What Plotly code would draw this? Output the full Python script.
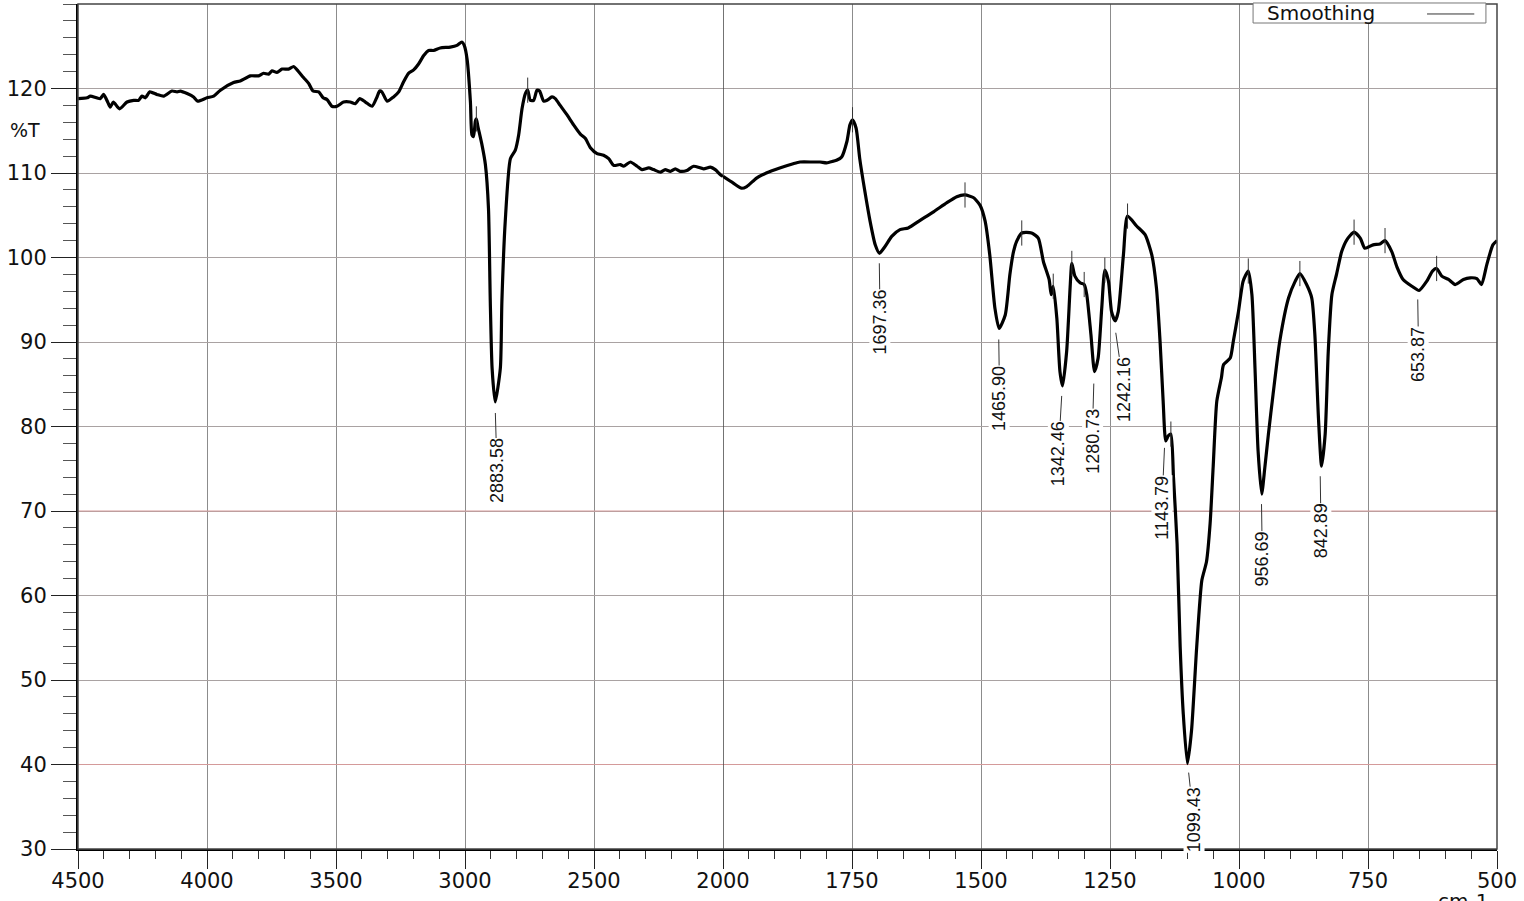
import plotly.graph_objects as go

# ---------------- data ----------------
wavenumber = [
    4500, 4465, 4452, 4414, 4401, 4385, 4375, 4363, 4339, 4310, 4284, 4265, 4252, 4239,
    4222, 4194, 4168, 4136, 4116, 4103, 4077, 4052, 4036, 4000, 3974, 3948, 3897, 3871,
    3832, 3800, 3781, 3761, 3748, 3729, 3709, 3684, 3664, 3651, 3626, 3606, 3589, 3567,
    3550, 3535, 3516, 3496, 3471, 3445, 3425, 3408, 3386, 3360, 3341, 3331, 3322, 3302,
    3277, 3257, 3238, 3219, 3199, 3180, 3160, 3141, 3122, 3096, 3057, 3031, 3012, 3003,
    2992, 2979, 2973, 2967, 2960, 2956, 2950, 2934, 2921, 2909, 2902, 2895, 2883, 2863,
    2857, 2844, 2824, 2805, 2792, 2779, 2766, 2757, 2747, 2734, 2721, 2711, 2695, 2682,
    2663, 2650, 2631, 2605, 2579, 2553, 2534, 2514, 2488, 2463, 2443, 2424, 2398, 2385,
    2359, 2333, 2314, 2288, 2269, 2243, 2224, 2204, 2185, 2166, 2140, 2114, 2075, 2049,
    2030, 2010, 2000,
    1980, 1964, 1954, 1935, 1916, 1890, 1864, 1851, 1825, 1812, 1799, 1786, 1780, 1770,
    1760, 1754, 1749, 1742, 1735, 1725, 1715, 1705, 1697, 1686, 1673, 1657, 1641, 1618,
    1592, 1566, 1547, 1531, 1515, 1502, 1492, 1483, 1473, 1465, 1453, 1444, 1437, 1431,
    1421, 1402, 1389, 1379, 1368, 1364, 1360, 1353, 1347, 1342, 1334, 1327, 1324, 1318,
    1308, 1300, 1295, 1287, 1280, 1273, 1266, 1260, 1253, 1247, 1240, 1234, 1224, 1216,
    1198, 1182, 1169, 1160, 1153, 1147, 1142, 1137, 1132, 1127, 1120, 1114, 1108, 1100,
    1092, 1082, 1072, 1063, 1056, 1050, 1043, 1034, 1030, 1017, 1011, 1001, 992, 982,
    975, 969, 963, 956, 950, 943, 934, 921, 904, 891, 882, 869, 859, 853, 846, 840, 833,
    827, 820, 811, 801, 791, 777, 765, 756, 740, 727, 717, 704, 694, 682, 665, 651, 636,
    625, 617, 607, 594, 581, 565, 552, 539, 530, 520, 508, 500,
]
transmittance = [
    118.8, 118.9, 119.1, 118.8, 119.3, 118.4, 117.8, 118.4, 117.6, 118.4, 118.6, 118.6, 119.1, 118.9,
    119.6, 119.3, 119.1, 119.7, 119.6, 119.7, 119.4, 119.0, 118.5, 118.9, 119.1, 119.8, 120.7, 120.9,
    121.5, 121.5, 121.8, 121.7, 122.1, 121.9, 122.3, 122.3, 122.6, 122.2, 121.3, 120.6, 119.7, 119.6,
    118.9, 118.7, 117.9, 117.9, 118.4, 118.4, 118.2, 118.8, 118.4, 117.9, 119.0, 119.7, 119.6, 118.5,
    119.0, 119.6, 120.8, 121.8, 122.2, 122.9, 123.9, 124.5, 124.5, 124.8, 124.9, 125.1, 125.5, 125.1,
    123.5, 118.4, 114.5, 114.3, 116.1, 116.4, 115.5, 113.3, 111.0, 105.8, 94.8, 86.9, 82.9, 86.9,
    94.8, 104.3, 111.7, 112.7, 114.5, 117.6, 119.4, 119.8, 118.6, 118.6, 119.8, 119.7, 118.5, 118.6,
    119.0, 118.8, 118.0, 116.9, 115.7, 114.6, 114.1, 113.0, 112.3, 112.1, 111.7, 110.9, 111.0, 110.8,
    111.3, 110.8, 110.4, 110.6, 110.4, 110.1, 110.4, 110.2, 110.5, 110.2, 110.3, 110.8, 110.5, 110.7,
    110.4, 109.8, 109.6,
    108.8, 108.2, 108.4, 109.4, 110.0, 110.6, 111.1, 111.3, 111.3, 111.3, 111.2, 111.4, 111.5, 111.9,
    113.7, 115.7, 116.3, 115.3, 111.7, 107.8, 104.3, 101.5, 100.5, 101.3, 102.5, 103.3, 103.5, 104.4,
    105.4, 106.5, 107.2, 107.4, 107.1, 106.2, 104.3, 100.3, 94.0, 91.6, 93.2, 98.0, 100.7, 101.9,
    102.9, 102.9, 102.3, 99.5, 97.4, 95.6, 96.6, 92.8, 86.5, 84.8, 88.9, 96.8, 99.3, 97.8,
    97.0, 96.8, 95.6, 90.9, 86.5, 88.1, 94.0, 98.5, 97.2, 93.6, 92.5, 93.6, 100.3, 104.9,
    103.7, 102.7, 100.3, 96.4, 90.1, 83.0, 78.3, 78.9, 79.1, 74.0, 66.1, 53.9, 46.0, 40.1,
    44.0, 53.9, 61.8, 64.0, 68.5, 75.3, 83.0, 85.8, 87.3, 88.1, 90.1, 93.6, 97.2, 98.4,
    95.6, 86.9, 77.1, 72.0, 75.1, 79.1, 83.8, 90.1, 95.2, 97.2, 98.1, 96.8, 95.2, 90.9, 81.0, 75.3, 79.1,
    88.9, 95.6, 98.0, 100.7, 102.1, 103.0, 102.3, 101.1, 101.5, 101.6, 102.0, 100.7, 98.9, 97.4, 96.6, 96.1, 97.2,
    98.4, 98.7, 97.8, 97.4, 96.8, 97.4, 97.6, 97.5, 96.8, 99.1, 101.5, 102.0,
]

# labelled absorption minima
peak_wn = [2883.58, 1697.36, 1465.90, 1342.46, 1280.73, 1242.16, 1143.79, 1099.43, 956.69, 842.89, 653.87]
peak_T = [82.9, 100.5, 91.6, 84.8, 86.5, 92.5, 78.3, 40.1, 72.0, 75.3, 96.1]

# local maxima marked with small ticks
max_wn = [2956, 2757, 1749, 1531, 1421, 1360, 1324, 1300, 1260, 1216, 1132, 982, 882, 777, 717, 617]
max_T = [116.4, 119.8, 116.3, 107.4, 102.9, 96.6, 99.3, 96.8, 98.5, 104.9, 79.1, 98.4, 98.1, 103.0, 102.0, 98.7]

y_ticks = [30, 40, 50, 60, 70, 80, 90, 100, 110, 120]
x_ticks_left = [4500, 4000, 3500, 3000, 2500, 2000]
x_ticks_right = [1750, 1500, 1250, 1000, 750, 500]
pink_grid = [40, 70]

# label leader offsets (pixels): (ax, ay, standoff)
label_offsets = [(2, 69, 11), (1, 69, 10), (1, 70, 11), (-4, 68, 10), (-2, 70, 12), (10, 69, 12),
                 (-3, 67, 7), (6, 56, 9), (1, 65, 10), (1, 65, 10), (1, 64, 9)]

# ---------------- figure ----------------
SPLIT = 2000
d = 645 / 1419  # domain split (4500-2000 compressed, 2000-500 expanded)

left = [(w, t) for w, t in zip(wavenumber, transmittance) if w >= SPLIT]
right = [(w, t) for w, t in zip(wavenumber, transmittance) if w <= SPLIT]

line_style = dict(color="black", width=3.2, shape="spline", smoothing=0.6)
fig = go.Figure()
fig.add_trace(go.Scatter(x=[p[0] for p in left], y=[p[1] for p in left], mode="lines",
                         line=line_style, xaxis="x", yaxis="y", showlegend=False, hoverinfo="skip"))
fig.add_trace(go.Scatter(x=[p[0] for p in right], y=[p[1] for p in right], mode="lines",
                         line=line_style, xaxis="x2", yaxis="y", showlegend=False, hoverinfo="skip"))

tick_marker = dict(symbol="line-ns", size=18, line=dict(width=1, color="#333"))
fig.add_trace(go.Scatter(x=[w for w in max_wn if w >= SPLIT], y=[t for w, t in zip(max_wn, max_T) if w >= SPLIT],
                         mode="markers", marker=tick_marker, xaxis="x", yaxis="y", showlegend=False, hoverinfo="skip"))
fig.add_trace(go.Scatter(x=[w for w in max_wn if w < SPLIT], y=[t for w, t in zip(max_wn, max_T) if w < SPLIT],
                         mode="markers", marker=tick_marker, xaxis="x2", yaxis="y", showlegend=False, hoverinfo="skip"))

tickfont = dict(family="DejaVu Sans", size=21, color="#111")
common_x = dict(showgrid=True, gridcolor="#8c8c8c", gridwidth=1, ticks="outside", ticklen=18,
                tickwidth=1, tickcolor="#222", showline=True, linecolor="black", linewidth=2,
                zeroline=False, tickfont=tickfont, anchor="y", tickmode="array", ticklabelstandoff=-6)
fig.update_layout(
    width=1524, height=901,
    margin=dict(l=78, r=27, t=4, b=52, autoexpand=False),
    paper_bgcolor="white", plot_bgcolor="white",
    xaxis=dict(domain=[0, d], range=[4500, 2000], tickvals=x_ticks_left,
               minor=dict(dtick=100, tick0=0, ticks="outside", ticklen=8, tickcolor="#333", showgrid=False),
               **common_x),
    xaxis2=dict(domain=[d, 1], range=[2000, 500], tickvals=x_ticks_right,
                minor=dict(dtick=50, tick0=0, ticks="outside", ticklen=8, tickcolor="#333", showgrid=False),
                **common_x),
    yaxis=dict(range=[30, 130], tickmode="array", tickvals=y_ticks, ticks="outside", ticklen=25,
               tickwidth=1, tickcolor="#222", showline=True, linecolor="black", linewidth=2,
               showgrid=True, gridcolor="#a9a2a2", gridwidth=1, zeroline=False, tickfont=tickfont,
               anchor="x",
               minor=dict(dtick=2, tick0=30, ticks="outside", ticklen=13, tickcolor="#555", showgrid=False)),
)

shapes = []
# reddish gridlines
for yv in pink_grid:
    shapes.append(dict(type="line", xref="x", yref="y", x0=4500, x1=2000, y0=yv, y1=yv,
                       line=dict(color="#d49a9a", width=1), layer="between"))
    shapes.append(dict(type="line", xref="x2", yref="y", x0=2000, x1=500, y0=yv, y1=yv,
                       line=dict(color="#d49a9a", width=1), layer="between"))
# scale-change line at 2000
shapes.append(dict(type="line", xref="x2", yref="y", x0=SPLIT, x1=SPLIT, y0=30, y1=130,
                   line=dict(color="#444", width=1.5), layer="between"))
# frame
shapes.append(dict(type="rect", xref="paper", yref="paper", x0=0, x1=1, y0=0, y1=1,
                   line=dict(color="#444", width=1.5), layer="above"))
# legend box
shapes.append(dict(type="rect", xref="paper", yref="paper", x0=0.8281, x1=0.9922, y0=0.9775, y1=1.0012,
                   line=dict(color="#777", width=1), fillcolor="white", layer="above"))
shapes.append(dict(type="line", xref="paper", yref="paper", x0=0.9507, x1=0.984, y0=0.9882, y1=0.9882,
                   line=dict(color="#333", width=1), layer="above"))
fig.update_layout(shapes=shapes)

annotations = []
label_font = dict(family="Liberation Sans, Arial", size=18, color="#111")
for (w, t, (ax, ay, sd)) in zip(peak_wn, peak_T, label_offsets):
    annotations.append(dict(x=w, y=t, xref="x" if w >= SPLIT else "x2", yref="y",
                            text=f"{w:.2f}", textangle=-90, showarrow=True, arrowhead=0,
                            arrowwidth=1, arrowcolor="#333", ax=ax, ay=ay, standoff=sd,
                            font=label_font, bgcolor="white", borderpad=0))
annotations.append(dict(x=-0.0374, y=0.851, xref="paper", yref="paper", text="%T", showarrow=False,
                        font=dict(family="DejaVu Sans", size=19, color="#111"), xanchor="center", yanchor="middle"))
annotations.append(dict(x=0.8365, y=0.9893, xref="paper", yref="paper", text="Smoothing", showarrow=False,
                        font=dict(family="DejaVu Sans", size=20, color="#111"), xanchor="left", yanchor="middle"))
annotations.append(dict(x=0.9760, y=-0.0445, xref="paper", yref="paper", text="cm-1", showarrow=False,
                        font=dict(family="DejaVu Sans", size=20, color="#111"), xanchor="center", yanchor="top"))
fig.update_layout(annotations=annotations)

fig.write_html("out.html", config={"displayModeBar": False, "staticPlot": True},
               post_script="document.body.style.margin='0px';document.body.style.overflow='hidden';")
